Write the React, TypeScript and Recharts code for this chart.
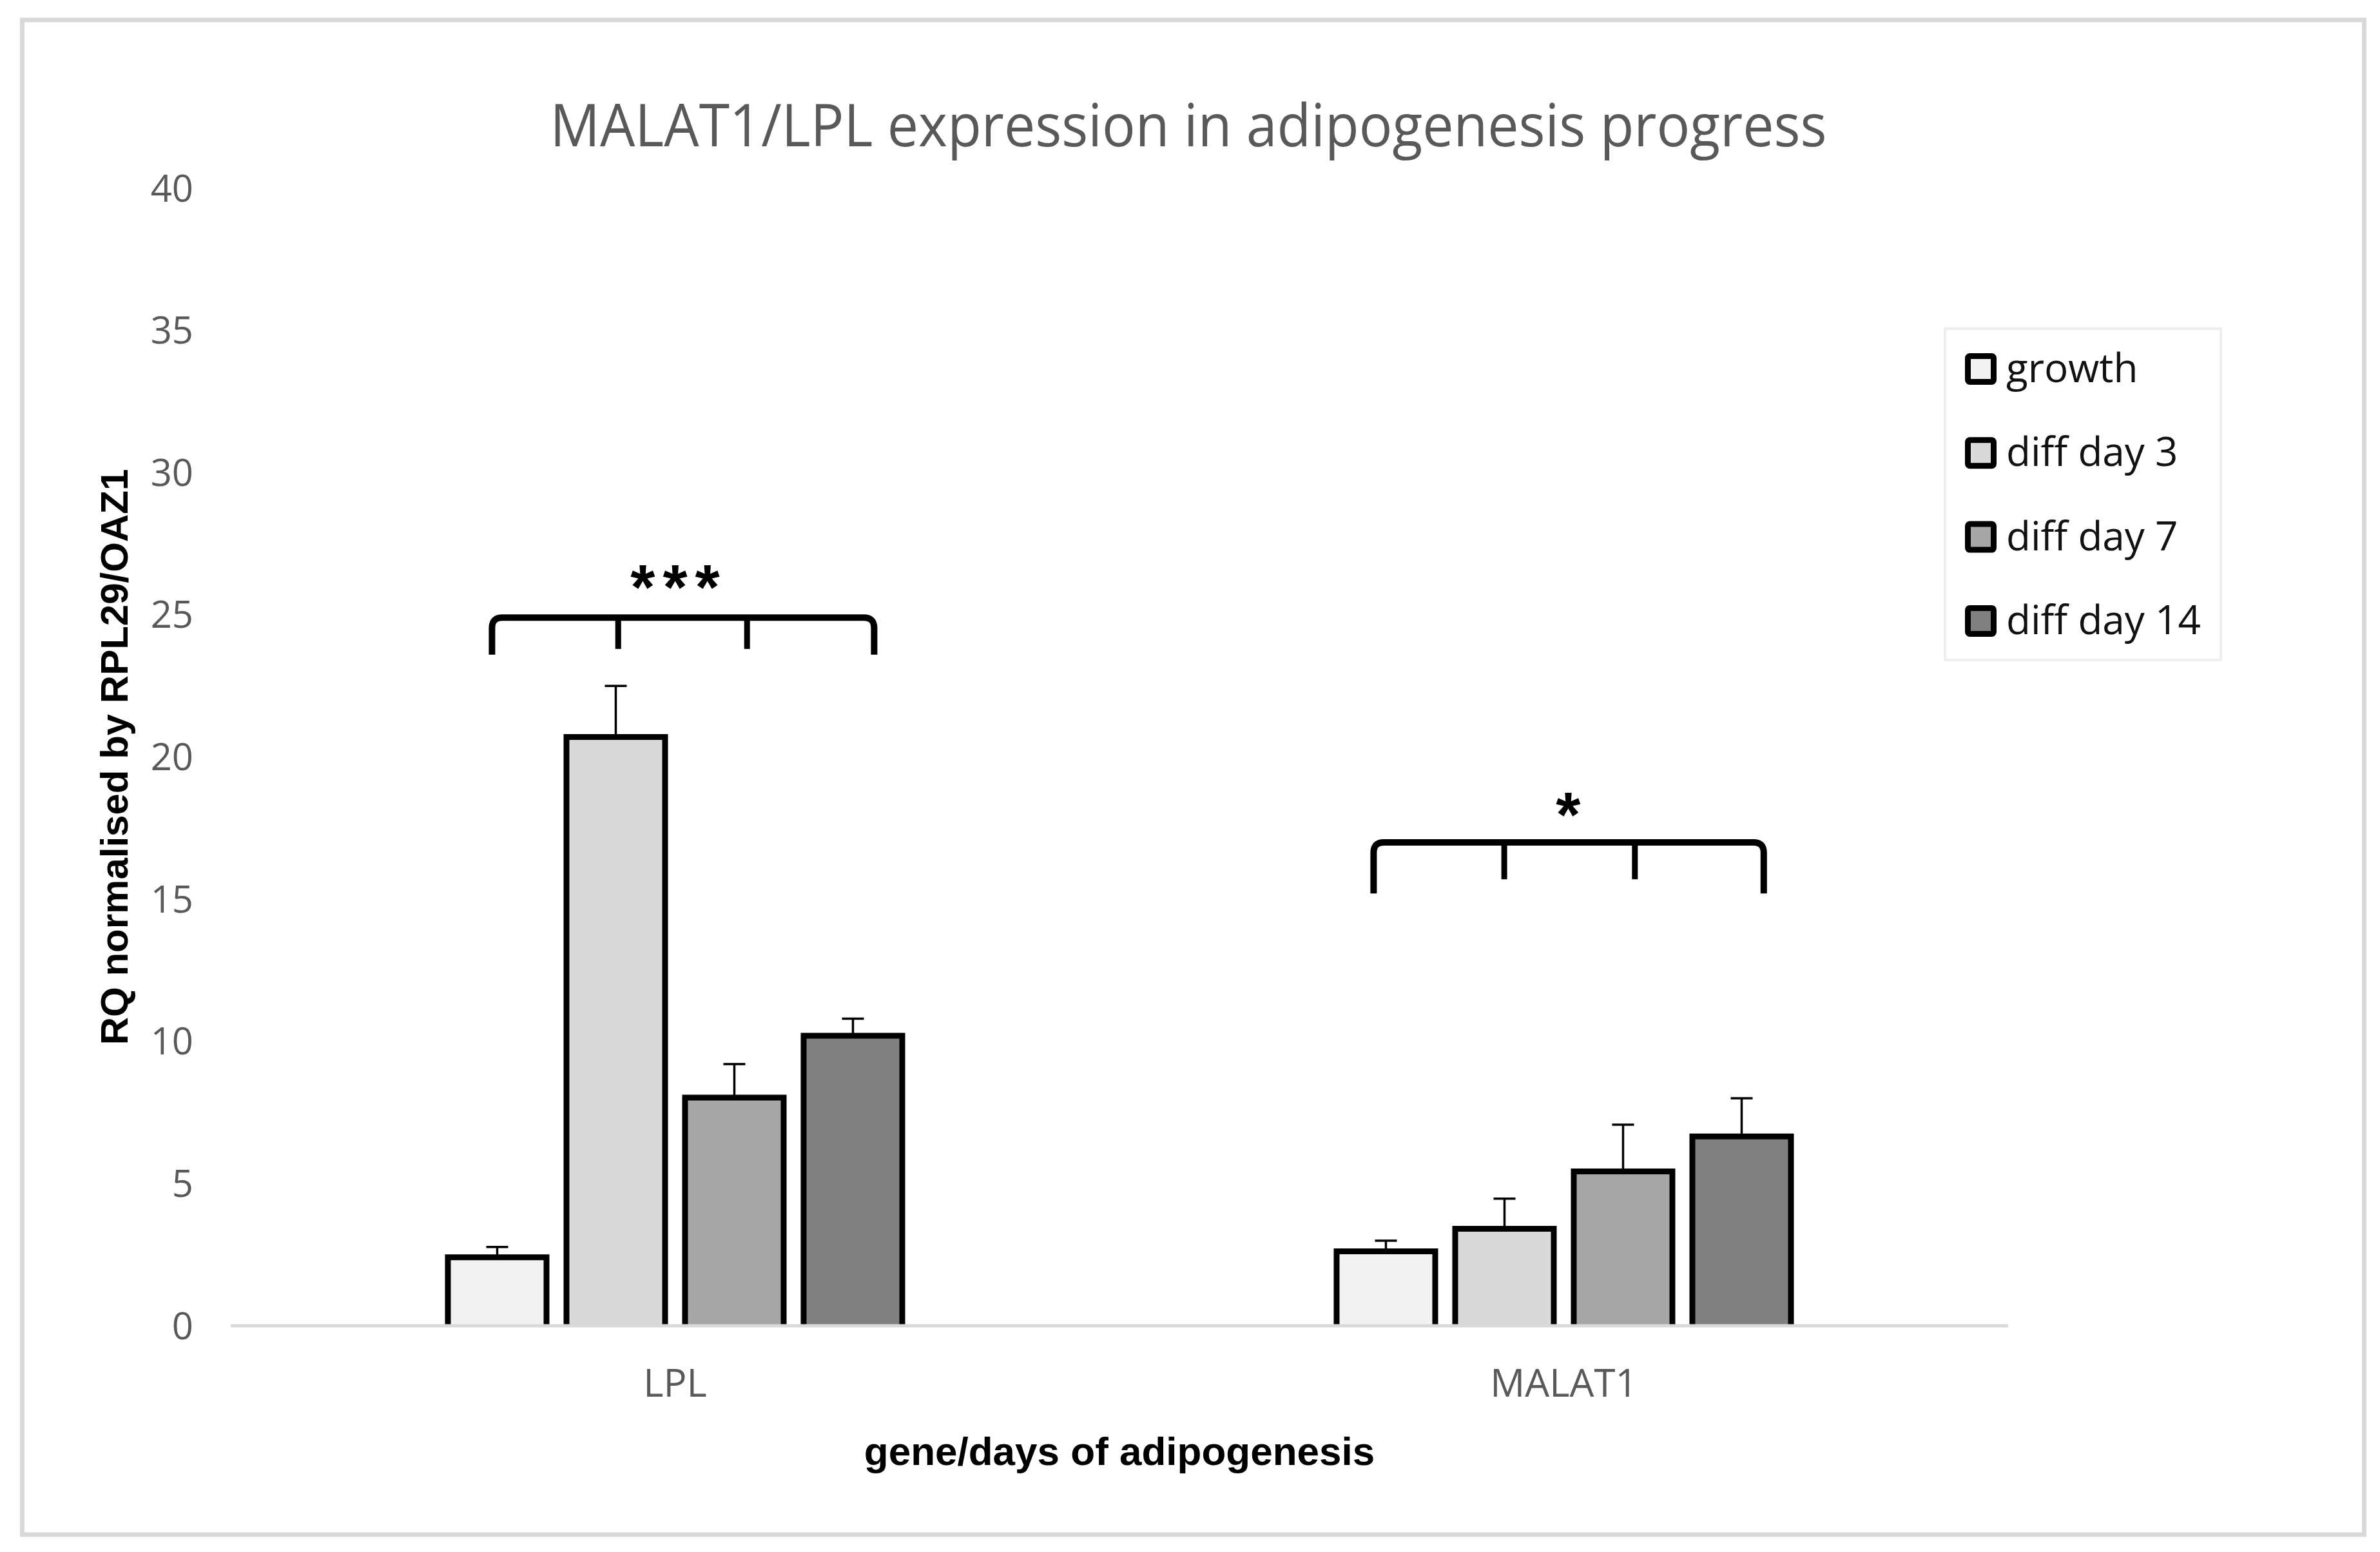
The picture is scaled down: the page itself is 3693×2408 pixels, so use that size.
import { BarChart, Bar, XAxis, YAxis, ErrorBar, ReferenceLine, ReferenceDot } from 'recharts'

// values
const genes = ['LPL', 'MALAT1']
const seriesNames = ['growth', 'diff day 3', 'diff day 7', 'diff day 14']
const growth = [2.41, 2.62]
const diffDay3 = [20.7, 3.41]
const diffDay7 = [8.02, 5.43]
const diffDay14 = [10.2, 6.66]
const growthErr = [0.36, 0.37]
const diffDay3Err = [1.8, 1.06]
const diffDay7Err = [1.18, 1.64]
const diffDay14Err = [0.6, 1.34]
const yTicks = [0, 5, 10, 15, 20, 25, 30, 35, 40]

// significance brackets, x in category units (0..2), y in axis units
const starText = ['***', '*']
const bracketLeft = [0.294, 1.286]
const bracketRight = [0.724, 1.725]
const bracketTop = [24.9, 17.0]
const bracketEnd = [23.6, 15.2]
const bracketTicks = [
  [0.436, 0.581],
  [1.433, 1.58],
]
const tickEnd = [23.8, 15.7]
const starX = [0.5, 1.505]
const starY = [25.2, 17.2]

const fills = ['#f2f2f2', '#d9d9d9', '#a6a6a6', '#808080']
const keys = ['growth', 'diff3', 'diff7', 'diff14']

const data = genes.map((gene, i) => ({
  gene,
  growth: growth[i],
  diff3: diffDay3[i],
  diff7: diffDay7[i],
  diff14: diffDay14[i],
  growthErr: [0, growthErr[i]],
  diff3Err: [0, diffDay3Err[i]],
  diff7Err: [0, diffDay7Err[i]],
  diff14Err: [0, diffDay14Err[i]],
}))

// category units -> fraction of the plot width (hidden numeric axis runs 0..1)
const pos = (v: number) => v / genes.length

const W = 3693
const H = 2408

function OpenBar(props: any) {
  const { x, y, width, height, fill } = props
  return (
    <g>
      <rect x={x} y={y} width={width} height={height} fill={fill} />
      <path
        d={`M${x},${y + height} V${y} H${x + width} V${y + height}`}
        fill="none"
        stroke="#000"
        strokeWidth={9}
      />
    </g>
  )
}

function Bracket(props: any) {
  const { x1, y1, x2, y2 } = props
  const r = 16
  return (
    <path
      d={`M${x1},${y1} L${x1},${y2 + r} Q${x1},${y2} ${x1 + r},${y2} L${x2 - r},${y2} Q${x2},${y2} ${x2},${y2 + r} L${x2},${y1}`}
      fill="none"
      stroke="#000"
      strokeWidth={10}
    />
  )
}

export default function App() {
  return (
    <div style={{ position: 'relative', width: W, height: H, background: '#fff' }}>
      <style>{`body{margin:0}`}</style>
      <svg width={W} height={H} style={{ position: 'absolute', left: 0, top: 0 }}>
        <rect x={34.5} y={31} width={3634} height={2350} fill="#fff" stroke="#d9d9d9" strokeWidth={7} />
        <text
          x={1844}
          y={227}
          textAnchor="middle"
          fontSize={92}
          fill="#595959"
          fontFamily="Open Sans"
          textLength={1981}
          lengthAdjust="spacingAndGlyphs"
        >
          MALAT1/LPL expression in adipogenesis progress
        </text>
        <rect x={3018} y={510} width={428} height={514} fill="#fff" stroke="#efefef" strokeWidth={4} />
        {seriesNames.map((name, i) => (
          <g key={name}>
            <rect
              x={3053.5}
              y={552.5 + i * 130.3}
              width={40}
              height={40}
              rx={3}
              fill={fills[i]}
              stroke="#000"
              strokeWidth={9}
            />
            <text x={3113} y={593 + i * 130.3} fontSize={62} fill="#111" fontFamily="Open Sans">
              {name}
            </text>
          </g>
        ))}
      </svg>
      <div style={{ position: 'absolute', left: 0, top: 0 }}>
        <BarChart
          width={W}
          height={H}
          data={data}
          margin={{ top: 292, right: 577, bottom: 0, left: 158 }}
          barSize={153}
          barGap={31}
        >
          <XAxis
            dataKey="gene"
            height={351}
            tickLine={false}
            axisLine={{ stroke: '#d9d9d9', strokeWidth: 5 }}
            tickMargin={61}
            tick={{ fill: '#595959', fontSize: 60, fontFamily: 'Open Sans' }}
            label={{
              value: 'gene/days of adipogenesis',
              position: 'insideBottom',
              offset: 135,
              fill: '#000',
              fontSize: 62,
              fontWeight: 'bold',
              fontFamily: 'Liberation Sans',
            }}
          />
          <XAxis xAxisId="pos" type="number" domain={[0, 1]} allowDataOverflow hide />
          <YAxis
            width={200}
            domain={[0, 40]}
            ticks={yTicks}
            tickLine={false}
            axisLine={false}
            tickMargin={52}
            tick={{ fill: '#595959', fontSize: 58, fontFamily: 'Open Sans' }}
            label={{
              value: 'RQ normalised by RPL29/OAZ1',
              angle: -90,
              position: 'insideLeft',
              offset: 19,
              fill: '#000',
              fontSize: 60,
              fontWeight: 'bold',
              fontFamily: 'Liberation Sans',
              style: { textAnchor: 'middle' },
            }}
          />
          {keys.map((k, i) => (
            <Bar key={k} dataKey={k} name={seriesNames[i]} fill={fills[i]} shape={<OpenBar />} isAnimationActive={false}>
              <ErrorBar dataKey={`${k}Err`} direction="y" width={17} stroke="#000" strokeWidth={3.5} isAnimationActive={false} />
            </Bar>
          ))}
          {bracketLeft.map((l, i) => (
            <ReferenceLine
              key={`br${i}`}
              xAxisId="pos"
              segment={[
                { x: pos(l), y: bracketEnd[i] },
                { x: pos(bracketRight[i]), y: bracketTop[i] },
              ]}
              shape={<Bracket />}
              ifOverflow="visible"
            />
          ))}
          {bracketTicks.flatMap((ts, i) =>
            ts.map((t, j) => (
              <ReferenceLine
                key={`bt${i}-${j}`}
                xAxisId="pos"
                segment={[
                  { x: pos(t), y: bracketTop[i] },
                  { x: pos(t), y: tickEnd[i] },
                ]}
                stroke="#000"
                strokeWidth={9}
                ifOverflow="visible"
              />
            )),
          )}
          {starText.map((s, i) => (
            <ReferenceDot
              key={`st${i}`}
              xAxisId="pos"
              x={pos(starX[i])}
              y={starY[i]}
              r={0}
              ifOverflow="visible"
              shape={(p: any) => (
                <text
                  x={p.cx}
                  y={p.cy}
                  dx={s.length > 1 ? 6 : 0}
                  textAnchor="middle"
                  fontSize={98}
                  fontWeight="bold"
                  letterSpacing={s.length > 1 ? 12 : 0}
                  fill="#000"
                  fontFamily="Liberation Sans"
                >
                  {s}
                </text>
              )}
            />
          ))}
        </BarChart>
      </div>
    </div>
  )
}
